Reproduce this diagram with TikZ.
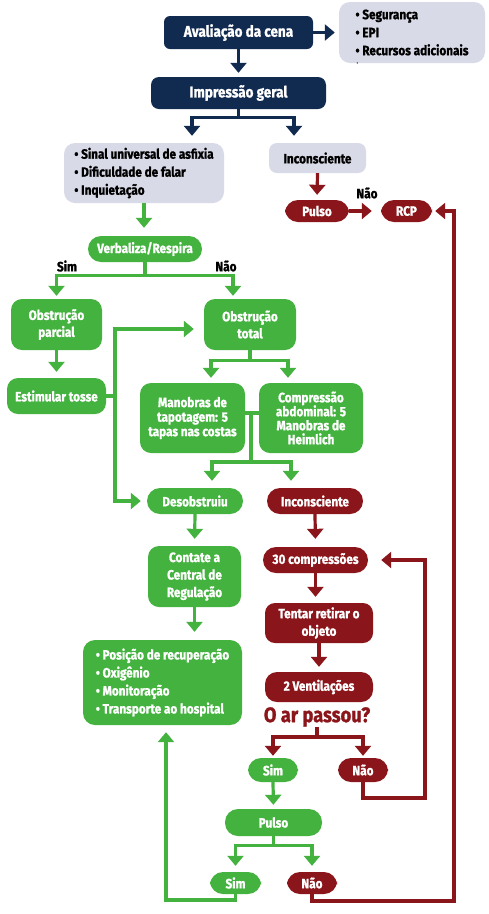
\documentclass[tikz,border=0pt]{standalone}
\usepackage{fontspec}
\setmainfont{Fira Sans}[FakeStretch=0.87, BoldFeatures={FakeBold=1.2}]
\usetikzlibrary{arrows.meta,calc}
\definecolor{navy}{HTML}{112A50}
\definecolor{lav}{HTML}{D9DAE8}
\definecolor{grn}{HTML}{44B23F}
\definecolor{dred}{HTML}{8A151A}
\tikzset{
  base/.style={font=\bfseries\fontsize{13.5}{14.5}\selectfont, align=center, inner sep=0pt, text=white},
  sz/.style 2 args={minimum width=#1, minimum height=#2},
  nv/.style={base, fill=navy, font=\bfseries\fontsize{15.5}{16}\selectfont, rounded corners=6pt},
  lv/.style={base, fill=lav, text=black, rounded corners=11pt},
  gb/.style={base, fill=grn, rounded corners=11pt},
  rb/.style={base, fill=dred, rounded corners=11pt},
  pill/.style={rounded corners=13pt},
  lbl/.style={font=\bfseries\fontsize{13.5}{14}\selectfont, inner sep=0pt, text=black},
  tip/.style={-{Triangle[width=16pt,length=10pt]}},
  nl/.style={draw=navy, line width=3.2pt},
  gl/.style={draw=grn, line width=3.2pt},
  rl/.style={draw=dred, line width=3.2pt},
  na/.style={nl, tip},
  ga/.style={gl, tip},
  ra/.style={rl, tip},
}
\begin{document}
\begin{tikzpicture}[x=1pt,y=-1pt]
\useasboundingbox (0,0) rectangle (489,914);
\fill[white] (0,0) rectangle (489,914);

% nodes
\node[nv, sz={149pt}{33pt}] (aval) at (238.5,32.5) {Avaliação da cena};
\node[lv, sz={146pt}{61pt}, align=left, font=\bfseries\fontsize{13.5}{18}\selectfont] (seg) at (412,32.5)
  {• Segurança\\• EPI\\• Recursos adicionais};
\node[inner sep=0pt, font=\fontsize{6}{6}\selectfont] (stray) at (357.5,64) {•};
\node[nv, sz={175pt}{32pt}, rounded corners=8pt] (imp) at (238.5,93) {Impressão geral};
\node[lv, sz={160pt}{60pt}, align=left, font=\bfseries\fontsize{13.5}{18}\selectfont] (sinal) at (144,173)
  {• Sinal universal de asfixia\\• Dificuldade de falar\\• Inquietação};
\node[lv, sz={97pt}{30pt}, rounded corners=8pt] (inc1) at (317.5,158) {Inconsciente};
\node[rb, pill, sz={64pt}{22pt}] (pulso1) at (317,211) {Pulso};
\node[rb, pill, sz={51pt}{22pt}] (rcp) at (406.5,211) {RCP};
\node[gb, pill, sz={114pt}{26pt}] (verb) at (145,249) {Verbaliza/Respira};
\node[gb, sz={91pt}{51pt}, font=\bfseries\fontsize{13.5}{17}\selectfont] (obp) at (56.5,324.5) {Obstrução\\parcial};
\node[gb, sz={92pt}{51pt}, font=\bfseries\fontsize{13.5}{17}\selectfont] (obt) at (250,324.5) {Obstrução\\total};
\node[gb, sz={99pt}{36pt}] (est) at (56.5,396) {Estimular tosse};
\node[gb, sz={105pt}{70pt}] (man) at (192.5,418) {Manobras de\\tapotagem: 5\\tapas nas costas};
\node[gb, sz={104pt}{70pt}, font=\bfseries\fontsize{13.5}{14}\selectfont] (comp) at (311,418) {Compressão\\abdominal: 5\\Manobras de\\Heimlich};
\node[gb, pill, sz={96pt}{26pt}] (des) at (195,501) {Desobstruiu};
\node[rb, pill, sz={96pt}{26pt}] (inc2) at (315,501) {Inconsciente};
\node[gb, sz={93pt}{61pt}, font=\bfseries\fontsize{13.5}{17.5}\selectfont] (cont) at (194.5,576.5) {Contate a\\Central de\\Regulação};
\node[rb, pill, sz={105pt}{26pt}] (c30) at (315.5,560) {30 compressões};
\node[rb, sz={108pt}{40pt}, rounded corners=10pt, font=\bfseries\fontsize{13.5}{17.5}\selectfont] (tent) at (319,623) {Tentar retirar o\\objeto};
\node[gb, sz={159pt}{85pt}, rounded corners=12pt, align=left, font=\bfseries\fontsize{13.5}{18}\selectfont] (bul) at (162.5,682.5)
  {• Posição de recuperação\\• Oxigênio\\• Monitoração\\• Transporte ao hospital};
\node[rb, sz={108pt}{30pt}, rounded corners=12pt] (vent) at (319,687) {2 Ventilações};
\node[inner sep=0pt, text=dred, font=\bfseries\fontsize{21}{22}\selectfont] (oar) at (317,717) {O ar passou?};
\node[gb, pill, sz={50pt}{24pt}] (sim1) at (273,770) {Sim};
\node[rb, pill, sz={50pt}{24pt}] (nao1) at (363,770) {Não};
\node[gb, pill, sz={97pt}{27pt}] (pulso2) at (273.5,822.5) {Pulso};
\node[gb, pill, sz={51pt}{22pt}] (sim2) at (235.5,883) {Sim};
\node[rb, pill, sz={50pt}{22pt}] (nao2) at (312,883) {Não};

% labels
\node[lbl] (lnao1) at (367,193) {Não};
\node[lbl] (lsim) at (67,266) {Sim};
\node[lbl] (lnao2) at (226,266) {Não};

% navy connectors
\draw[na, shorten >=4pt] (aval.east) -- (seg.west);
\draw[na, shorten >=4pt] (aval.south) -- (aval.south |- imp.north);
\draw[nl] (imp.south) -- ++(0,8) coordinate (f1);
\draw[na, shorten >=7pt] (f1) -| ([xshift=48pt]sinal.north);
\draw[na, shorten >=7pt] (f1) -| ([xshift=-23.5pt]inc1.north);

% red top
\draw[ra, shorten >=5pt] (inc1.south) -- (pulso1.north);
\draw[ra, shorten >=9pt] (pulso1.east) -- (rcp.west);

% green left part
\draw[ga, shorten >=8pt] (sinal.south) -- (sinal.south |- verb.north);
\draw[gl] (verb.south) -- ++(0,13) coordinate (f2);
\draw[ga, shorten >=3pt] (f2) -| (obp.north);
\draw[ga, shorten >=3pt] (f2) -| ([xshift=-17pt]obt.north);
\draw[ga, shorten >=6pt] (obp.south) -- (est.north);
\coordinate (vx) at (115,396);
\draw[gl] (est.east) -- (vx);
\draw[ga, shorten >=10pt] (vx) |- ([yshift=-4.5pt]obt.west);
\draw[ga, shorten >=6pt] (vx) |- (des.west);
\draw[gl] (obt.south) -- ++(0,10) coordinate (f3);
\draw[ga, shorten >=5pt] (f3) -| ([xshift=18.5pt]man.north);
\draw[ga, shorten >=5pt] (f3) -| ([xshift=-23pt]comp.north);
\coordinate (j1) at (251,413);
\coordinate (j2) at (251,462);
\draw[gl] ([yshift=5pt]man.east) -- ([yshift=5pt]comp.west);
\draw[gl] (j1) -- (j2);
\draw[ga, shorten >=7pt] (j2) -| ([xshift=17pt]des.north);
\draw[ga, shorten >=7pt] (j2) -| ([xshift=-24pt]inc2.north);
\draw[ga, shorten >=7pt] (des.south) -- (cont.north);
\draw[ga, shorten >=8pt] (cont.south) -- (cont.south |- bul.north);

% red lower part
\draw[ra, shorten >=8pt] (inc2.south) -- (c30.north);
\draw[ra, shorten >=6pt] (c30.south) -- (c30.south |- tent.north);
\draw[ra, shorten >=5pt] (tent.south) -- (tent.south |- vent.north);
\draw[rl] (oar.south) -- ++(0,10) coordinate (f4);
\draw[ra, shorten >=2pt] (f4) -| (sim1.north);
\draw[ra, shorten >=2pt] (f4) -| (nao1.north);
\coordinate (r1) at (425,798);
\draw[ra, shorten >=13pt] (nao1.south) |- (r1) |- (c30.east);

% pulse and loops
\draw[ga, shorten >=4pt] (sim1.south) -- (pulso2.north);
\draw[gl] (pulso2.south) -- ++(0,9) coordinate (f5);
\draw[ga, shorten >=6pt] (f5) -| (sim2.north);
\draw[ga, shorten >=6pt] (f5) -| (nao2.north);
\coordinate (g1) at (166,900);
\draw[ga, shorten >=7pt] (sim2.south) |- (g1) -- ([xshift=3.5pt]bul.south);
\coordinate (r2) at (454,901);
\draw[ra, shorten >=3pt] (nao2.south) |- (r2) |- (rcp.east);
\end{tikzpicture}
\end{document}
